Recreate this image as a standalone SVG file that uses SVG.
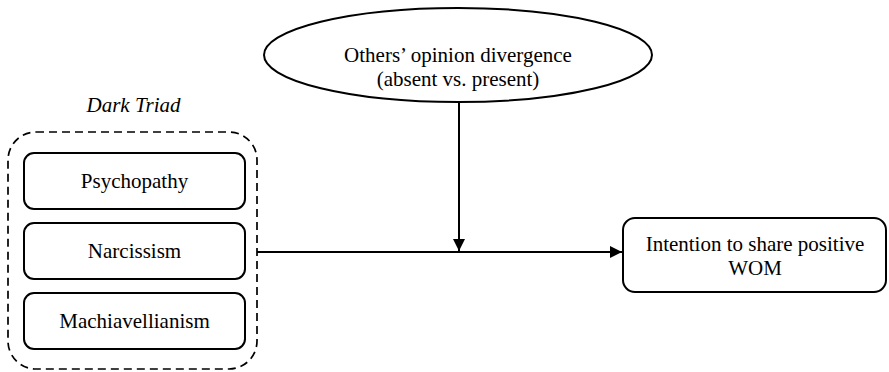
<svg xmlns="http://www.w3.org/2000/svg" width="889" height="372" viewBox="0 0 889 372">
<style>
text{font-family:"Liberation Serif","Times New Roman",serif;font-size:21px;fill:#000;text-anchor:middle}
.box{fill:#fff;stroke:#000;stroke-width:2}
.line{fill:none;stroke:#000;stroke-width:2}
</style>
<defs>
<marker id="ah" viewBox="0 0 12 12" refX="12" refY="6" markerWidth="12" markerHeight="12" markerUnits="userSpaceOnUse" orient="auto">
<path d="M0,0 L12,6 L0,12 z" fill="#000"/>
</marker>
</defs>
<rect width="889" height="372" fill="#fff"/>
<g id="dark-triad">
<text x="133.5" y="112" font-style="italic">Dark Triad</text>
<rect x="8" y="132" width="249" height="237" rx="28" fill="none" stroke="#000" stroke-width="1.7" stroke-dasharray="8 5"/>
</g>
<g id="psychopathy">
<rect class="box" x="24" y="153" width="221" height="56" rx="10"/>
<text x="134.5" y="188">Psychopathy</text>
</g>
<g id="narcissism">
<rect class="box" x="24" y="223" width="221" height="56" rx="10"/>
<text x="134.5" y="258">Narcissism</text>
</g>
<g id="machiavellianism">
<rect class="box" x="24" y="293" width="221" height="56" rx="10"/>
<text x="134.5" y="328">Machiavellianism</text>
</g>
<g id="opinion">
<ellipse class="box" cx="458" cy="55" rx="194" ry="47"/>
<text x="458" y="62">Others’ opinion divergence</text>
<text x="458" y="86">(absent vs. present)</text>
</g>
<g id="intention">
<rect class="box" x="623" y="218" width="263" height="74" rx="12"/>
<text x="755" y="251">Intention to share positive</text>
<text x="755" y="275">WOM</text>
</g>
<g id="connectors">
<path class="line" d="M257,252 H622" marker-end="url(#ah)"/>
<path class="line" d="M459,102 V251" marker-end="url(#ah)"/>
</g>
</svg>
